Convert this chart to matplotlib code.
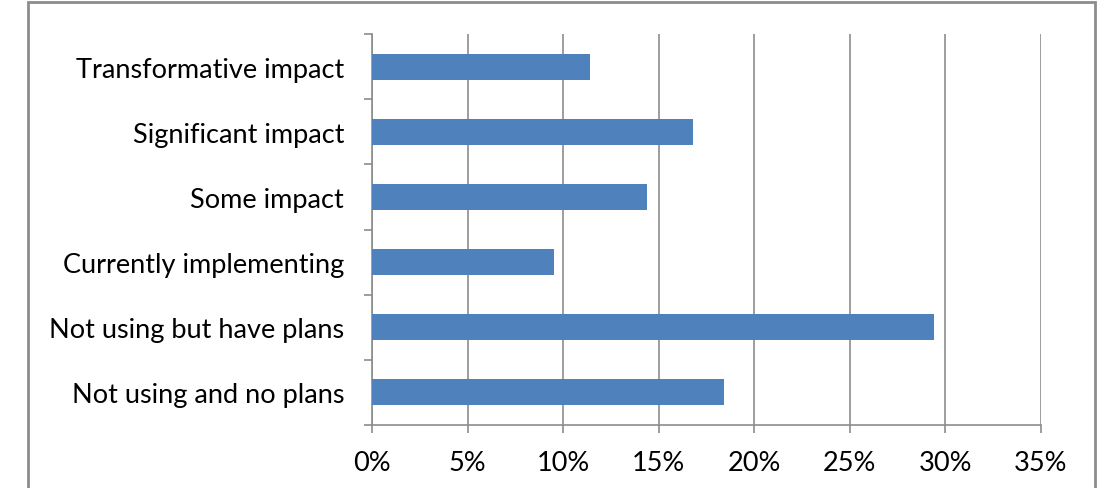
import numpy as np
import matplotlib
matplotlib.use("Agg")
import matplotlib.pyplot as plt
from matplotlib.patches import Rectangle

categories = ["Not using and no plans", "Not using but have plans", "Currently implementing",
              "Some impact", "Significant impact", "Transformative impact"]
values = [18.4, 29.4, 9.5, 14.4, 16.8, 11.4]
xticks = [0, 5, 10, 15, 20, 25, 30, 35]
xticklabels = ["0%", "5%", "10%", "15%", "20%", "25%", "30%", "35%"]

plt.rcParams['font.family'] = ['Lato', 'DejaVu Sans']

fig = plt.figure(figsize=(11.02, 4.89), dpi=100)
ax = fig.add_axes([372/1102, 1 - 426/489, (1041 - 372)/1102, (426 - 35)/489])

# outer chart frame
fig.patches.append(Rectangle((28/1102, -0.05), (1095 - 28)/1102, 1.05 - 3/489,
                             transform=fig.transFigure, fill=False,
                             edgecolor="#8c8c8c", linewidth=2))

pos = np.arange(len(categories))
ax.barh(pos, values, height=0.4, color="#4f81bd", zorder=3)

ax.set_xlim(0, 35)
ax.set_ylim(-0.5, len(categories) - 0.5)
ax.set_xticks(xticks)
ax.set_xticklabels(xticklabels, fontsize=19.5)
ax.set_yticks(pos)
ax.set_yticklabels(categories, fontsize=19.5)
ax.tick_params(axis='y', length=0, pad=20)
ax.set_yticks(np.arange(-0.5, len(categories)), minor=True)
ax.tick_params(axis='y', which='minor', length=6, color="#8c8c8c", width=1.2, direction='out')
ax.tick_params(axis='x', length=6, color="#8c8c8c", width=1.2, pad=12)

ax.grid(axis='x', color="#8c8c8c", linewidth=1.2, zorder=0)
for s in ['top', 'right']:
    ax.spines[s].set_visible(False)
for s in ['left', 'bottom']:
    ax.spines[s].set_color("#8c8c8c")
    ax.spines[s].set_linewidth(1.2)

fig.savefig("out.png", dpi=100)
